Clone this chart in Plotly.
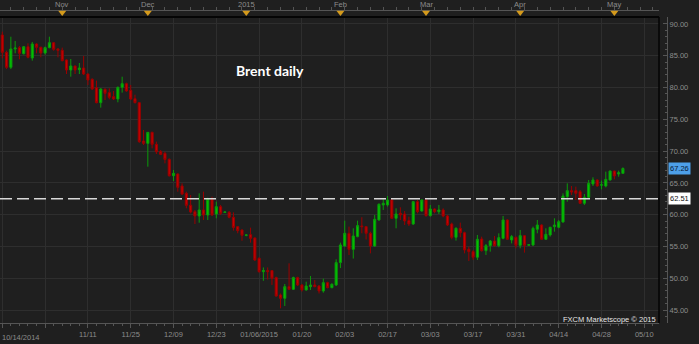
import plotly.graph_objects as go

# ---------------- data (Brent daily) ----------------
open_ = [88.27, 85.54, 83.18, 86.07, 86.28, 85.33, 86.43, 84.65, 86.85, 86.33,
         85.44, 86.28, 87.06, 86.07, 85.86, 84.34, 82.76, 83.39, 82.82, 83.08,
         82.13, 81.30, 79.98, 77.62, 79.72, 79.20, 78.57, 78.20, 80.04, 80.61,
         79.56, 78.25, 77.62, 71.59, 71.22, 72.95, 71.07, 69.91, 69.65, 68.70,
         66.14, 66.40, 64.51, 63.36, 61.50, 60.47, 59.79, 60.74, 59.95, 62.41,
         60.11, 61.26, 60.35, 60.37, 59.59, 58.12, 57.59, 56.76, 56.86, 56.34,
         53.14, 51.04, 51.20, 51.20, 50.10, 47.37, 46.84, 48.68, 48.26, 50.10,
         48.94, 48.16, 48.68, 48.94, 48.78, 48.00, 49.31, 48.52, 48.94, 52.46,
         55.08, 57.07, 54.55, 56.55, 58.23, 58.12, 57.07, 55.08, 59.17, 61.53,
         61.53, 62.32, 59.43, 60.22, 60.11, 59.06, 58.54, 62.05, 60.58, 62.32,
         59.85, 60.90, 60.48, 60.74, 59.80, 58.54, 56.44, 57.86, 57.17, 54.55,
         54.19, 53.30, 56.18, 54.34, 55.13, 55.86, 55.13, 56.28, 59.17, 56.02,
         56.44, 55.18, 56.70, 55.20, 55.23, 57.70, 58.38, 56.13, 56.80, 58.12,
         58.01, 58.85, 62.83, 63.78, 63.78, 63.62, 61.79, 62.73, 64.83, 65.46,
         64.65, 64.51, 65.46, 66.87, 66.40, 66.50]
high = [88.80, 85.80, 88.00, 87.33, 86.54, 86.50, 86.96, 87.17, 86.96, 86.43,
        86.43, 88.00, 87.17, 86.22, 86.28, 84.44, 84.49, 83.45, 83.86, 84.97,
        82.23, 81.45, 81.09, 79.88, 79.88, 79.88, 79.46, 80.15, 81.71, 80.77,
        80.40, 78.88, 77.70, 73.32, 72.95, 73.06, 71.49, 70.17, 69.91, 68.86,
        67.03, 66.50, 64.93, 63.62, 63.10, 60.74, 63.36, 63.62, 62.67, 62.83,
        62.05, 61.53, 60.50, 60.58, 60.37, 58.22, 57.70, 56.90, 57.96, 56.44,
        53.29, 51.70, 51.70, 51.30, 50.25, 47.60, 49.10, 52.35, 50.25, 50.25,
        49.10, 49.46, 50.36, 49.73, 48.94, 49.94, 49.46, 49.20, 52.98, 55.60,
        59.06, 58.12, 57.86, 59.06, 59.60, 58.22, 57.33, 59.96, 61.79, 62.42,
        62.94, 62.42, 61.00, 61.16, 60.58, 59.69, 62.16, 62.32, 62.42, 62.42,
        61.53, 61.00, 61.53, 61.00, 59.96, 58.75, 58.01, 58.75, 57.33, 54.97,
        54.45, 56.81, 56.54, 55.39, 56.02, 56.65, 57.07, 59.80, 59.27, 56.81,
        56.55, 57.60, 56.81, 55.35, 58.12, 59.17, 58.48, 57.85, 58.12, 59.43,
        59.17, 63.36, 64.93, 64.51, 64.41, 63.88, 63.25, 65.46, 65.88, 65.56,
        65.35, 66.77, 66.93, 66.93, 66.93, 67.45]
low = [84.60, 82.90, 82.90, 85.39, 84.44, 85.20, 84.60, 84.23, 85.39, 84.76,
       85.18, 86.17, 85.80, 84.76, 84.13, 82.13, 81.71, 82.13, 82.13, 81.98,
       80.40, 79.62, 77.52, 76.84, 78.04, 78.15, 78.04, 77.68, 79.20, 79.35,
       78.04, 77.52, 71.30, 70.96, 67.55, 70.44, 69.55, 69.39, 68.08, 65.98,
       65.30, 63.62, 63.09, 61.00, 60.21, 58.53, 58.74, 59.17, 59.17, 59.80,
       59.43, 59.96, 60.30, 59.43, 57.50, 57.07, 55.90, 56.60, 55.60, 52.72,
       50.88, 49.60, 49.80, 48.95, 47.10, 45.27, 45.64, 48.16, 48.16, 48.78,
       47.90, 48.05, 48.16, 48.57, 47.60, 47.73, 48.42, 48.42, 48.78, 51.60,
       54.97, 53.66, 53.10, 56.44, 57.07, 56.10, 53.92, 54.97, 59.06, 60.74,
       61.27, 59.33, 57.86, 59.17, 58.38, 58.22, 58.38, 60.22, 60.48, 59.69,
       59.69, 60.22, 60.11, 59.59, 58.22, 56.13, 55.92, 56.44, 53.92, 52.72,
       52.88, 52.88, 54.18, 53.66, 54.18, 54.97, 54.87, 56.13, 56.02, 55.49,
       54.71, 54.71, 54.03, 55.10, 55.08, 57.07, 56.02, 56.02, 56.55, 57.33,
       57.86, 58.75, 62.05, 63.10, 62.31, 61.69, 61.53, 62.57, 64.51, 64.41,
       63.99, 64.30, 65.35, 65.56, 65.98, 66.50]
close = [85.54, 83.18, 86.07, 86.22, 85.39, 86.43, 84.76, 86.85, 86.33, 85.44,
         86.28, 87.06, 86.01, 85.86, 84.23, 82.76, 83.39, 82.76, 83.08, 82.13,
         81.19, 79.77, 77.62, 79.77, 79.09, 78.46, 78.20, 80.04, 80.61, 79.46,
         78.20, 77.62, 71.49, 71.22, 72.95, 71.07, 69.91, 69.49, 68.70, 66.14,
         66.50, 64.30, 63.25, 61.47, 60.42, 59.79, 60.74, 59.95, 62.41, 59.95,
         61.26, 60.21, 60.42, 59.59, 58.00, 57.49, 56.76, 56.80, 56.28, 52.87,
         51.04, 51.20, 51.04, 50.00, 47.20, 46.84, 48.68, 48.26, 50.10, 48.94,
         48.16, 48.78, 48.94, 48.68, 48.00, 49.31, 48.52, 49.05, 52.46, 55.24,
         57.07, 54.55, 56.65, 58.28, 58.12, 57.07, 55.08, 59.27, 61.63, 61.79,
         62.32, 59.43, 60.11, 59.96, 59.01, 58.54, 62.05, 60.48, 62.32, 59.85,
         60.90, 60.48, 60.74, 59.80, 58.38, 56.44, 57.86, 57.17, 54.45, 54.19,
         53.30, 56.13, 54.34, 55.13, 55.86, 55.13, 56.39, 59.17, 56.13, 56.55,
         55.18, 56.70, 55.18, 55.27, 57.85, 58.38, 56.13, 56.91, 58.01, 58.38,
         58.90, 62.94, 63.78, 63.57, 63.36, 61.79, 62.73, 64.93, 65.46, 64.51,
         64.70, 65.56, 66.87, 66.09, 66.60, 67.26]

# bottom date ticks (every 10 trading days from 10/14/2014)
date_tick_pos = [0, 10, 20, 30, 40, 50, 60, 70, 80, 90, 100, 110, 120, 130, 140, 150]
date_tick_text = ["10/14/2014", "", "11/11", "11/25", "12/09", "12/23", "01/06/2015",
                  "01/20", "02/03", "02/17", "03/03", "03/17", "03/31", "04/14",
                  "04/28", "05/10"]
# month markers on the top strip
month_names = ["Nov", "Dec", "2015", "Feb", "Mar", "Apr", "May"]
month_pos = [14, 34, 57, 79, 99, 121, 143]
# horizontal level
level = 62.51
price_ticks = [45, 50, 55, 60, 65, 70, 75, 80, 85, 90]

# ---------------- style ----------------
BG = "#1f1f1f"
GRID = "#2e2e2e"
AXIS = "#555555"
TXT = "#8c8c8c"
FONT = "Liberation Sans, Arial, sans-serif"
W, H = 699, 344
ML, MR, MT, MB = 0, 32, 8, 21
PW = W - ML - MR          # 667
PH = H - MT - MB          # 315
FRAME_R = 659
PLOT_TOP = 17
PLOT_BOT = 323


def py(ypx):
    """pixel row -> paper y"""
    return (PLOT_BOT - ypx) / PH


x = list(range(len(close)))
xr = [-0.54, 153.43]

fig = go.Figure()
fig.add_trace(go.Candlestick(
    x=x, open=open_, high=high, low=low, close=close,
    increasing=dict(fillcolor="#00c800", line=dict(color="#0a9a0a", width=1)),
    decreasing=dict(fillcolor="#c80000", line=dict(color="#9a0000", width=1)),
    whiskerwidth=0, hoverinfo="skip", showlegend=False,
))
# helper trace so the top strip axis is rendered
fig.add_trace(go.Scatter(x=[0], y=[None], xaxis="x2", yaxis="y",
                         showlegend=False, hoverinfo="skip"))
# month marker triangles in the top strip (y2 is in pixel rows of the strip)
fig.add_trace(go.Scatter(
    x=month_pos, y=[12.5] * len(month_pos), xaxis="x3", yaxis="y2",
    mode="markers", cliponaxis=False,
    marker=dict(symbol="triangle-down", size=7, color="#d49a1c",
                line=dict(width=0)),
    showlegend=False, hoverinfo="skip",
))

ticktext = [""] + date_tick_text[1:]

fig.update_layout(
    width=W, height=H,
    margin=dict(l=ML, r=MR, t=MT, b=MB, pad=0),
    paper_bgcolor=BG, plot_bgcolor=BG,
    showlegend=False,
    font=dict(family=FONT, size=8, color=TXT),
    xaxis=dict(
        domain=[0, FRAME_R / PW], range=xr, anchor="y",
        tickmode="array", tickvals=date_tick_pos, ticktext=ticktext,
        showgrid=True, gridcolor=GRID, gridwidth=1, zeroline=False,
        showline=True, linecolor=AXIS, linewidth=1,
        ticks="outside", ticklen=4, tickcolor=AXIS,
        tickfont=dict(family=FONT, size=7.5, color=TXT),
        minor=dict(tickmode="linear", tick0=0, dtick=2, ticks="outside",
                   ticklen=2, tickcolor=AXIS, showgrid=False),
        rangeslider=dict(visible=False), fixedrange=True,
    ),
    xaxis2=dict(
        overlaying="x", range=xr, anchor="free", position=py(10), side="top",
        showline=True, linecolor=AXIS, linewidth=1,
        ticks="outside", ticklen=3, tickcolor=AXIS,
        tickmode="linear", tick0=2, dtick=3, showticklabels=False,
        showgrid=False, zeroline=False,
    ),
    xaxis3=dict(domain=[0, FRAME_R / PW], range=xr, anchor="y2", visible=False,
                fixedrange=True),
    yaxis=dict(
        domain=[0, py(PLOT_TOP)], range=[42.96, 91.10],
        anchor="free", position=1, side="right",
        tickmode="array", tickvals=price_ticks,
        ticktext=[f"{v:.2f}" for v in price_ticks],
        ticks="inside", ticklen=4, tickcolor=AXIS,
        showline=True, linecolor=AXIS, linewidth=1,
        showgrid=True, gridcolor=GRID, gridwidth=1, zeroline=False,
        tickfont=dict(family=FONT, size=7.5, color=TXT),
        minor=dict(tickmode="linear", tick0=0, dtick=1, ticks="inside",
                   ticklen=2, tickcolor=AXIS, showgrid=False),
        fixedrange=True,
    ),
    yaxis2=dict(domain=[py(PLOT_TOP), 1], range=[PLOT_TOP, MT], anchor="x3",
                visible=False, fixedrange=True),
)

shapes = [
    # dashed level line
    dict(type="line", xref="x domain", yref="y", x0=0, x1=1, y0=level, y1=level,
         line=dict(color="#d8d8d8", width=1.5, dash="12px,5px")),
    # frame: top and right
    dict(type="line", xref="x domain", yref="y domain", x0=0, x1=1, y0=1, y1=1,
         line=dict(color="#050505", width=2)),
    dict(type="line", xref="x domain", yref="y domain", x0=1, x1=1, y0=0, y1=1,
         line=dict(color="#050505", width=1.5)),
]
fig.update_layout(shapes=shapes)

ann = []
# first date label, left aligned
ann.append(dict(x=xr[0], y=py(337), xref="x", yref="paper", text=date_tick_text[0],
                showarrow=False, xanchor="left", yanchor="middle",
                font=dict(family=FONT, size=7.5, color=TXT)))
# month names
for name, pos in zip(month_names, month_pos):
    ann.append(dict(x=pos, y=py(4.5), xref="x", yref="paper", text=name,
                    showarrow=False, xanchor="center", yanchor="middle",
                    font=dict(family=FONT, size=7.5, color=TXT)))
# title
ann.append(dict(x=270 / PW, y=py(70), xref="paper", yref="paper",
                text="<b>Brent daily</b>", showarrow=False,
                xanchor="center", yanchor="middle",
                font=dict(family="Lato, Open Sans, sans-serif", size=14, color="#ffffff")))
# watermark
ann.append(dict(x=(FRAME_R - 1) / PW, y=py(319), xref="paper", yref="paper",
                text="FXCM Marketscope © 2015", showarrow=False,
                xanchor="right", yanchor="middle",
                font=dict(family=FONT, size=7.5, color="#e6e6e6")))
# price labels on the right axis
ann.append(dict(x=668 / PW, y=close[-1], xref="paper", yref="y",
                text=f"{close[-1]:.2f}", showarrow=False,
                xanchor="left", yanchor="middle", bgcolor="#4d9fe8",
                borderpad=1, font=dict(family=FONT, size=7.5, color="#0b1a33")))
ann.append(dict(x=668 / PW, y=level, xref="paper", yref="y",
                text=f"{level:.2f}", showarrow=False,
                xanchor="left", yanchor="middle", bgcolor="#ffffff",
                borderpad=1, font=dict(family=FONT, size=7.5, color="#111111")))
fig.update_layout(annotations=ann)

fig.write_html("out.html")
